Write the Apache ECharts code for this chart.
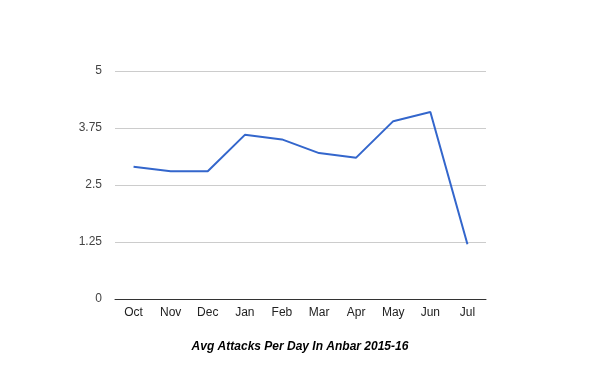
<!DOCTYPE html>
<html>
<head>
<meta charset="utf-8">
<script src="https://cdn.jsdelivr.net/npm/echarts@6/dist/echarts.min.js"></script>
<style>html,body{margin:0;padding:0;background:#fff;}#c{width:600px;height:371px;}</style>
</head>
<body>
<div id="c"></div>
<script>
var categories = ['Oct','Nov','Dec','Jan','Feb','Mar','Apr','May','Jun','Jul'];
var values = [2.9, 2.8, 2.8, 3.6, 3.5, 3.2, 3.1, 3.9, 4.1, 1.2];
var yTicks = [0, 1.25, 2.5, 3.75, 5];

var chart = echarts.init(document.getElementById('c'), null, {renderer: 'canvas'});
chart.setOption({
  animation: false,
  backgroundColor: '#ffffff',
  title: {
    text: 'Avg Attacks Per Day In Anbar 2015-16',
    left: 'center',
    top: 336,
    textStyle: {fontFamily: 'Liberation Sans, Arial', fontSize: 12, fontWeight: 'bold', fontStyle: 'italic', color: '#000'}
  },
  grid: {left: 115, right: 114, top: 71, bottom: 72},
  xAxis: {
    type: 'category',
    data: categories,
    boundaryGap: true,
    axisLine: {lineStyle: {color: '#333', width: 1}},
    axisTick: {show: false},
    axisLabel: {fontFamily: 'Liberation Sans, Arial', fontSize: 12, color: '#222', margin: 8}
  },
  yAxis: {
    type: 'value',
    min: 0, max: 5, interval: 1.25,
    axisLine: {show: false},
    axisTick: {show: false},
    splitLine: {lineStyle: {color: '#cccccc', width: 1}},
    axisLabel: {fontFamily: 'Liberation Sans, Arial', fontSize: 12, color: '#444', margin: 13,
      formatter: function(v){ return yTicks.indexOf(v) >= 0 ? String(v) : ''; }}
  },
  series: [{
    type: 'line',
    data: values,
    showSymbol: false,
    symbol: 'none',
    lineStyle: {color: '#3366cc', width: 2},
    itemStyle: {color: '#3366cc'}
  }]
});
</script>
</body>
</html>
